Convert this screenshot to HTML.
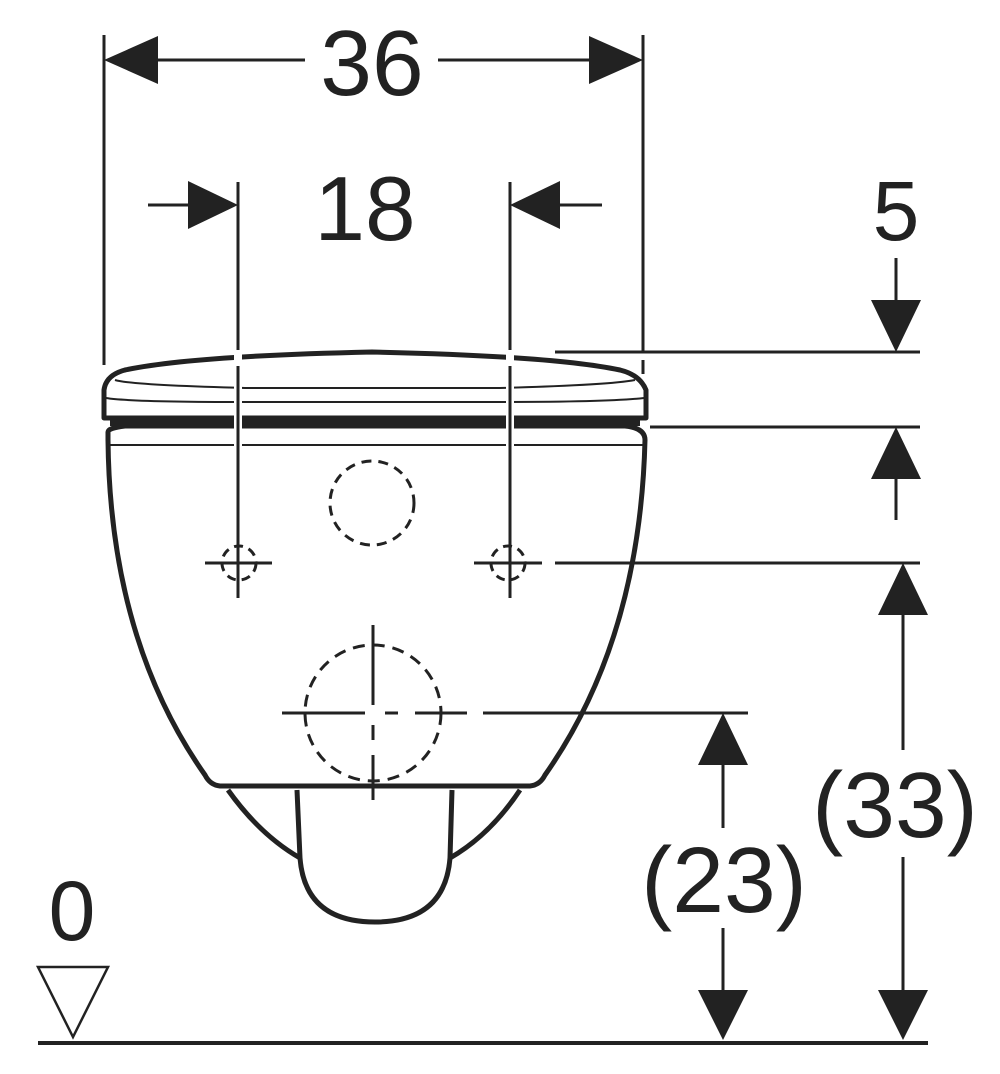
<!DOCTYPE html>
<html><head><meta charset="utf-8"><style>
html,body{margin:0;padding:0;background:#fff;}
svg{display:block;}
text{font-family:"Liberation Sans",sans-serif;fill:#222;}
</style></head><body>
<svg width="1000" height="1074" viewBox="0 0 1000 1074" xmlns="http://www.w3.org/2000/svg">
<!-- toilet -->
<g stroke="#222" fill="none" stroke-width="5" stroke-linejoin="round">
<path d="M104,418 L104,390 Q106,375 125,370 Q190,356 372,352 Q555,356 620,370 Q640,375 646,390 L646,418 Z" fill="#fff"/>
<path d="M108,432 Q108,428 125,426 L625,426 Q645,428 645,440 Q640,640 545,775 Q540,785 530,786 L220,786 Q210,785 205,775 Q110,640 108,440 Z" fill="#fff"/>
<path d="M228,790 Q260,835 300,858"/>
<path d="M520,790 Q490,835 450,858"/>
<path d="M297,790 L300,858 Q305,922 375,922 Q445,922 450,858 L452,790"/>
</g>
<g stroke="#222" fill="none" stroke-width="2">
<path d="M115,380 Q130,385 245,388 L500,388 Q610,385 635,380"/>
<path d="M106,398 Q130,402 245,402 L500,402 Q610,402 644,398"/>
<line x1="108" y1="445" x2="645" y2="445"/>
</g>
<rect x="110" y="416" width="530" height="10" fill="#222"/>
<g stroke="#fff" stroke-width="8"><line x1="238" y1="340" x2="238" y2="460"/><line x1="510" y1="340" x2="510" y2="460"/></g>
<g stroke="#222" fill="none" stroke-width="3">
<line x1="104" y1="35" x2="104" y2="365"/>
<line x1="643" y1="35" x2="643" y2="338"/>
<line x1="643" y1="338" x2="643" y2="376" stroke-dasharray="14 8"/>
<line x1="150" y1="60" x2="305" y2="60"/>
<line x1="438" y1="60" x2="600" y2="60"/>
<line x1="238" y1="182" x2="238" y2="350"/>
<line x1="238" y1="366" x2="238" y2="598"/>
<line x1="510" y1="182" x2="510" y2="350"/>
<line x1="510" y1="366" x2="510" y2="598"/>
<line x1="148" y1="205" x2="195" y2="205"/>
<line x1="555" y1="205" x2="602" y2="205"/>
<line x1="555" y1="352" x2="920" y2="352"/>
<line x1="650" y1="427" x2="920" y2="427"/>
<line x1="555" y1="563" x2="920" y2="563"/>
<line x1="483" y1="713" x2="748" y2="713"/>
<line x1="896" y1="258" x2="896" y2="305"/>
<line x1="896" y1="470" x2="896" y2="520"/>
<line x1="903" y1="610" x2="903" y2="750"/>
<line x1="903" y1="857" x2="903" y2="995"/>
<line x1="723" y1="760" x2="723" y2="828"/>
<line x1="723" y1="928" x2="723" y2="995"/>
<line x1="38" y1="1043" x2="928" y2="1043" stroke-width="4"/>
<polygon points="38,967 108,967 73,1037" stroke-width="2.5"/>
</g>
<g fill="#222">
<polygon points="104,60 158,36 158,84"/>
<polygon points="643,60 589,36 589,84"/>
<polygon points="238,205 188,181 188,229"/>
<polygon points="510,205 560,181 560,229"/>
<polygon points="896,352 871,300 921,300"/>
<polygon points="896,427 871,479 921,479"/>
<polygon points="903,563 878,615 928,615"/>
<polygon points="903,1040 878,990 928,990"/>
<polygon points="723,713 698,765 748,765"/>
<polygon points="723,1040 698,990 748,990"/>
</g>
<g stroke="#222" fill="none" stroke-width="3">
<circle cx="372" cy="503" r="42" stroke-dasharray="10 7"/>
<circle cx="239" cy="563" r="17" stroke-dasharray="9 6"/>
<circle cx="508" cy="563" r="17" stroke-dasharray="9 6"/>
<line x1="205" y1="563" x2="272" y2="563"/>
<line x1="474" y1="563" x2="542" y2="563"/>
<circle cx="373" cy="713" r="68" stroke-dasharray="12 8"/>
<line x1="373" y1="625" x2="373" y2="705"/>
<line x1="373" y1="725" x2="373" y2="740"/>
<line x1="373" y1="755" x2="373" y2="800"/>
<line x1="282" y1="713" x2="365" y2="713"/>
<line x1="385" y1="713" x2="398" y2="713"/>
<line x1="415" y1="713" x2="467" y2="713"/>
</g>
<text x="372" y="95" font-size="93" text-anchor="middle">36</text>
<text x="365" y="240" font-size="91" text-anchor="middle">18</text>
<text x="896" y="240" font-size="84" text-anchor="middle">5</text>
<text x="895" y="837" font-size="93" text-anchor="middle">(33)</text>
<text x="724" y="912" font-size="93" text-anchor="middle">(23)</text>
<text x="72" y="940" font-size="84" text-anchor="middle">0</text>
</svg>
</body></html>
